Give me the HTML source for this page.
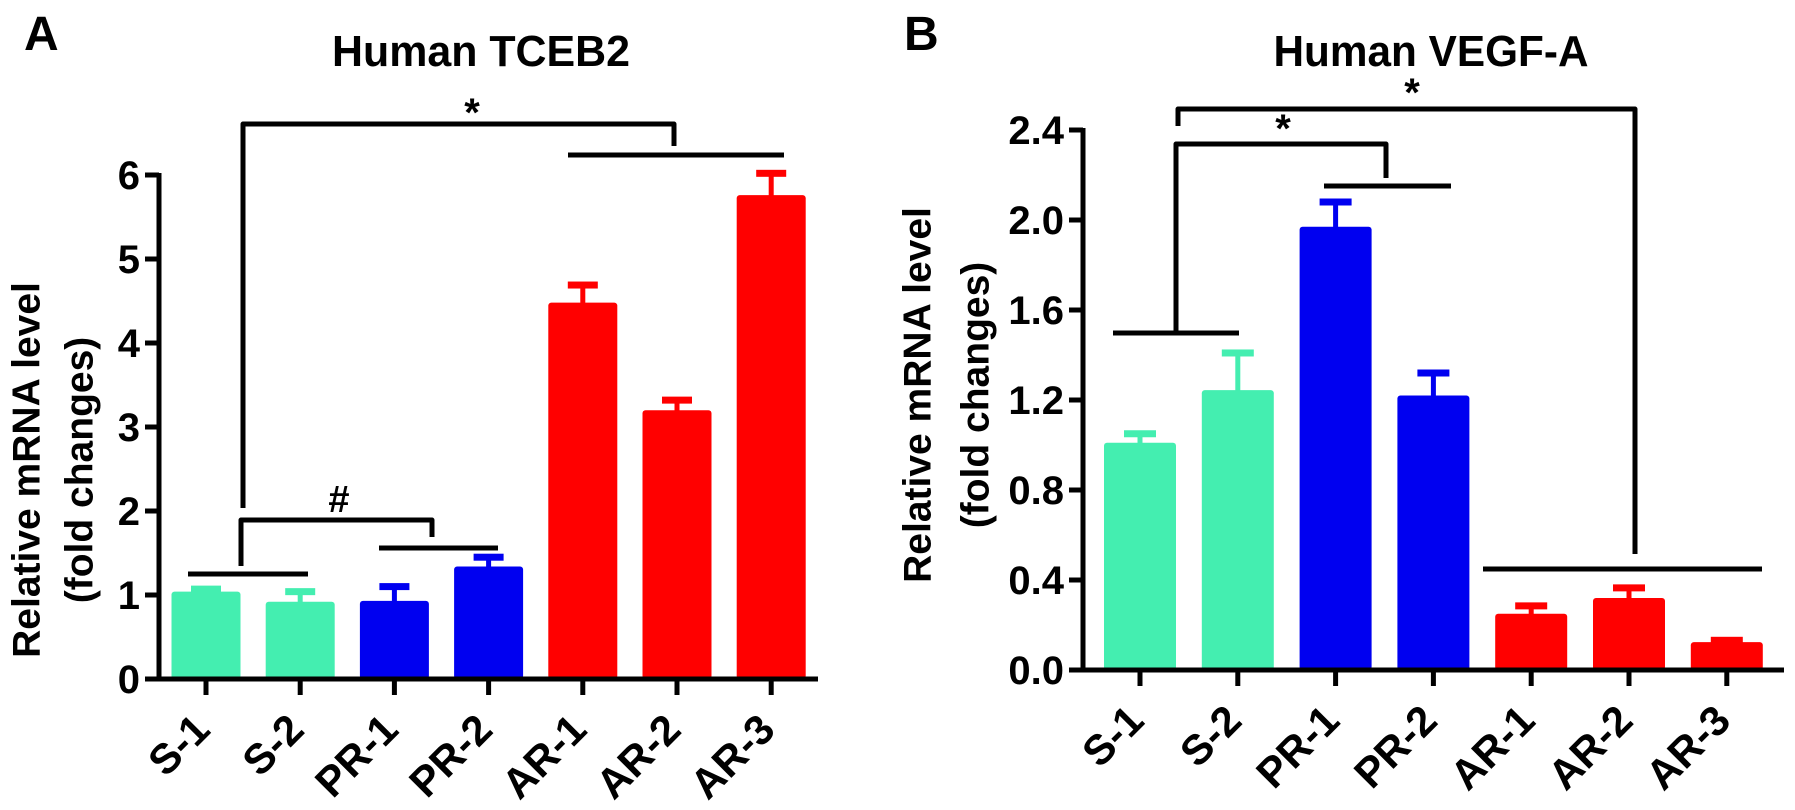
<!DOCTYPE html>
<html><head><meta charset="utf-8">
<style>
html,body{margin:0;padding:0;background:#fff;}
svg{display:block;font-family:"Liberation Sans",Arial,sans-serif;font-weight:bold;}
</style></head>
<body>
<svg id="fig" width="1795" height="810" viewBox="0 0 1795 810" xmlns="http://www.w3.org/2000/svg"></svg>
<script>
const categories = ["S-1","S-2","PR-1","PR-2","AR-1","AR-2","AR-3"];
const groupColors = ["#44EEB0","#44EEB0","#0000F0","#0000F0","#FF0000","#FF0000","#FF0000"];
const tcebValues = [1.04, 0.92, 0.93, 1.34, 4.48, 3.20, 5.76];
const tcebErrors = [0.03, 0.12, 0.17, 0.11, 0.21, 0.12, 0.26];
const tcebTicks = [0,1,2,3,4,5,6];
const tcebTickLabels = ["0","1","2","3","4","5","6"];
const vegfValues = [1.01, 1.244, 1.97, 1.22, 0.25, 0.32, 0.124];
const vegfErrors = [0.04, 0.165, 0.11, 0.10, 0.035, 0.045, 0.008];
const vegfTicks = [0,0.4,0.8,1.2,1.6,2.0,2.4];
const vegfTickLabels = ["0.0","0.4","0.8","1.2","1.6","2.0","2.4"];

const NS = "http://www.w3.org/2000/svg";
const svg = document.getElementById("fig");
function mk(tag, attrs, parent){
  const e = document.createElementNS(NS, tag);
  for (const k in attrs) e.setAttribute(k, attrs[k]);
  (parent||svg).appendChild(e);
  return e;
}
function txt(str, attrs, parent){ const t = mk("text", attrs, parent); t.textContent = str; return t; }

function panel(cfg){
  const g = mk("g", {});
  
  
  const y = v => cfg.y0 - (v - 0) * cfg.pxPerUnit;
  const x = i => cfg.x0 + i * cfg.step;

  cfg.values.forEach((v, i) => {
    const cx = x(i);
    const err = cfg.errors[i];
    const stem = mk("rect", {x: cx - 2.5, y: y(v + err), width: 5, height: y(v) - y(v + err) + 2, fill: groupColors[i]}, g);
    
    
    const cap = mk("rect", {x: cx - cfg.capW/2, y: y(v + err) - 3.5, width: cfg.capW, height: 7, fill: groupColors[i]}, g);
    
    
    const b = mk("rect", {x: cx - cfg.barW/2, y: y(v), width: cfg.barW, height: cfg.y0 - y(v), fill: groupColors[i], rx: 3}, g);
    
    
  });

  const ya = mk("line", {x1: cfg.axX, y1: y(cfg.ticks[cfg.ticks.length-1]) - 2, x2: cfg.axX, y2: cfg.y0 + 2.5, stroke: "#000", "stroke-width": 5}, g);
  
  
  const xa = mk("line", {x1: cfg.axX - 2.5, y1: cfg.y0, x2: cfg.axEnd, y2: cfg.y0, stroke: "#000", "stroke-width": 5}, g);
  
  

  cfg.ticks.forEach((t, i) => {
    mk("line", {x1: cfg.axX - 14, y1: y(t), x2: cfg.axX, y2: y(t), stroke: "#000", "stroke-width": 5}, g);
    const l = txt(cfg.tickLabels[i], {x: cfg.axX - 19, y: y(t) + 14, "text-anchor": "end", "font-size": 40}, g);
    
    
  });
  categories.forEach((c, i) => {
    mk("line", {x1: x(i), y1: cfg.y0, x2: x(i), y2: cfg.y0 + 16, stroke: "#000", "stroke-width": 5}, g);
    const px = x(i) + 6, py = cfg.y0 + 53;
    const l = txt(c, {x: px, y: py, "text-anchor": "end", "font-size": 42, transform: `rotate(-45 ${px} ${py})`}, g);
    
    
  });

  const t1 = txt("Relative mRNA level", {x: 0, y: 0, "text-anchor": "middle", "dominant-baseline": "central", "font-size": 39, transform: `translate(${cfg.yt1x} ${cfg.ytY}) rotate(-90)`}, g);
  
  
  const t2 = txt("(fold changes)", {x: 0, y: 0, "text-anchor": "middle", "dominant-baseline": "central", "font-size": 39, transform: `translate(${cfg.yt2x} ${cfg.ytY}) rotate(-90)`}, g);
  
  

  const tt = txt(cfg.title, {x: cfg.titleX, y: 66, "text-anchor": "middle", "font-size": 44, textLength: cfg.titleW, lengthAdjust: "spacingAndGlyphs"}, g);
  
  
  const lt = txt(cfg.letter, {x: cfg.letterX, y: 50, "font-size": 48}, g);
  
  
  return g;
}

function path(d, g, name){
  const p = mk("path", {d: d, fill: "none", stroke: "#000", "stroke-width": 5, "stroke-linejoin": "round"}, g);
  
  
}
function star(s, px, py, g, name){
  const t = txt(s, {x: px, y: py, "text-anchor": "middle", "font-size": s === "#" ? 38 : 40}, g);
  
  
}

const gA = panel({name: "panel-a-tceb2", values: tcebValues, errors: tcebErrors, ticks: tcebTicks, tickLabels: tcebTickLabels,
  x0: 206, step: 94.2, barW: 69, capW: 30, y0: 679, pxPerUnit: 84, axX: 159, axEnd: 818,
  yt1x: 27, yt2x: 80, ytY: 470, title: "Human TCEB2", titleX: 481, titleW: 298, letter: "A", letterX: 24});
path("M188 574 H308", gA, "group-line-s");
path("M379 548 H498", gA, "group-line-pr");
path("M568 155 H784", gA, "group-line-ar");
path("M241 566 V520 H432 V537", gA, "bracket-hash");
path("M243 508 V124 H674 V146", gA, "bracket-star");
star("#", 339, 512, gA, "significance-hash");
star("*", 472, 126, gA, "significance-star");

const gB = panel({name: "panel-b-vegfa", values: vegfValues, errors: vegfErrors, ticks: vegfTicks, tickLabels: vegfTickLabels,
  x0: 1140, step: 97.8, barW: 72, capW: 32, y0: 670, pxPerUnit: 225, axX: 1083, axEnd: 1784,
  yt1x: 918, yt2x: 976, ytY: 395, title: "Human  VEGF-A", titleX: 1431, titleW: 315, letter: "B", letterX: 904});
path("M1113 333 H1239", gB, "group-line-s");
path("M1324 186 H1451", gB, "group-line-pr");
path("M1483 569 H1762", gB, "group-line-ar");
path("M1176 331 V144 H1386 V178", gB, "bracket-inner");
path("M1178 126 V109 H1635 V554", gB, "bracket-outer");
star("*", 1283, 142, gB, "significance-star-inner");
star("*", 1412, 106, gB, "significance-star-outer");
</script>
</body></html>
